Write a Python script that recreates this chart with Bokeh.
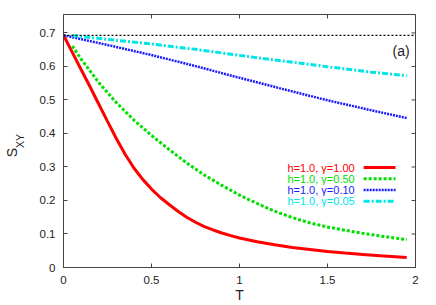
import math
from bokeh.plotting import figure
from bokeh.models import Range1d, FixedTicker, Label, Span, LinearAxis
from bokeh.embed import file_html
from bokeh.resources import INLINE

# ---------------- data ----------------
X_TICKS = [0, 0.5, 1, 1.5, 2]
X_TICK_LABELS = {0: "0", 0.5: "0.5", 1: "1", 1.5: "1.5", 2: "2"}
Y_TICKS = [0, 0.1, 0.2, 0.3, 0.4, 0.5, 0.6, 0.7]
Y_TICK_LABELS = {0: "0", 0.1: "0.1", 0.2: "0.2", 0.3: "0.3", 0.4: "0.4",
                 0.5: "0.5", 0.6: "0.6", 0.7: "0.7"}
X_TITLE = "T"
Y_TITLE_MAIN, Y_TITLE_SUB = "S", "XY"

LN2 = 0.693

t_g100 = [0, 0.05, 0.1, 0.15, 0.2, 0.25, 0.3, 0.35, 0.4, 0.45, 0.5, 0.55,
          0.6, 0.65, 0.7, 0.75, 0.8, 0.85, 0.9, 0.95, 1.0, 1.1, 1.2, 1.3,
          1.4, 1.5, 1.6, 1.7, 1.8, 1.95]
s_g100 = [0.693, 0.642, 0.591, 0.540, 0.488, 0.436, 0.385, 0.338, 0.297,
          0.263, 0.234, 0.209, 0.188, 0.168, 0.150, 0.135, 0.122, 0.112,
          0.103, 0.095, 0.088, 0.077, 0.068, 0.060, 0.054, 0.048, 0.043,
          0.039, 0.035, 0.030]

t_g050 = [0.05, 0.1, 0.2, 0.3, 0.4, 0.5, 0.6, 0.7, 0.8, 0.9, 1.0, 1.1, 1.2,
          1.3, 1.4, 1.5, 1.6, 1.7, 1.8, 1.95]
s_g050 = [0.661, 0.622, 0.552, 0.492, 0.440, 0.394, 0.352, 0.312, 0.276,
          0.245, 0.216, 0.191, 0.168, 0.149, 0.133, 0.121, 0.111, 0.102,
          0.094, 0.083]

t_g010 = [0, 0.25, 0.5, 0.75, 1.0, 1.25, 1.5, 1.75, 1.95]
s_g010 = [0.693, 0.664, 0.634, 0.601, 0.566, 0.532, 0.499, 0.469, 0.446]

t_g005 = [0.05, 0.25, 0.5, 0.75, 1.0, 1.25, 1.5, 1.75, 1.95]
s_g005 = [0.692, 0.681, 0.667, 0.651, 0.633, 0.616, 0.599, 0.583, 0.572]

labels = ["h=1.0, \u03b3=1.00", "h=1.0, \u03b3=0.50",
          "h=1.0, \u03b3=0.10", "h=1.0, \u03b3=0.05"]
colors = ["#ff0000", "#00e000", "#1a1aff", "#00e6e6"]
dashes = ["solid", "3 2", "2 1", "6 2 2 2"]
widths = [3, 3, 2.5, 3]
series = [(t_g100, s_g100), (t_g050, s_g050), (t_g010, s_g010),
          (t_g005, s_g005)]

FONT = "Liberation Sans"
TXT = "#222222"
AX = "#444444"

X_MIN, X_MAX = 0, 2
Y_MIN, Y_MAX = 0, 0.755

# ---------------- figure ----------------
p = figure(width=436, height=305, output_backend="svg", toolbar_location=None,
           x_range=Range1d(X_MIN, X_MAX), y_range=Range1d(Y_MIN, Y_MAX),
           min_border_left=62, min_border_right=21, min_border_top=14,
           min_border_bottom=37, tools="")
p.background_fill_color = "white"
p.border_fill_color = "white"
p.outline_line_color = AX
p.outline_line_width = 1
p.xgrid.visible = False
p.ygrid.visible = False

for ax, ticks, lab in ((p.xaxis[0], X_TICKS, X_TICK_LABELS),
                       (p.yaxis[0], Y_TICKS, Y_TICK_LABELS)):
    ax.ticker = FixedTicker(ticks=ticks)
    ax.major_label_overrides = lab
    ax.major_tick_in = 4
    ax.major_tick_out = 0
    ax.minor_tick_in = 0
    ax.minor_tick_out = 0
    ax.minor_tick_line_color = None
    ax.axis_line_color = AX
    ax.major_tick_line_color = AX
    ax.major_label_text_font = FONT
    ax.major_label_text_font_size = "11.5px"
    ax.major_label_text_color = TXT
    ax.major_label_standoff = 8
    ax.axis_label_text_font = FONT
    ax.axis_label_text_font_style = "normal"
    ax.axis_label_text_color = TXT

p.xaxis[0].axis_label = X_TITLE
p.xaxis[0].axis_label_text_font_size = "14px"
p.xaxis[0].axis_label_standoff = 0

# subscript of the y title sits on the main y axis
p.yaxis[0].axis_label = Y_TITLE_SUB
p.yaxis[0].axis_label_text_font_size = "10.5px"
p.yaxis[0].axis_label_standoff = 11

# outer, invisible axis carrying the main letter of the y title;
# trailing no-break spaces push the letter below the axis centre
s_axis = LinearAxis(ticker=FixedTicker(ticks=[]), axis_line_color=None,
                    major_tick_line_color=None, minor_tick_line_color=None,
                    major_tick_in=0, major_tick_out=0, minor_tick_in=0,
                    minor_tick_out=0, major_label_standoff=0,
                    axis_label=Y_TITLE_MAIN + "\u00a0" * 6,
                    axis_label_text_font=FONT,
                    axis_label_text_font_size="14px",
                    axis_label_text_font_style="normal",
                    axis_label_text_color=TXT, axis_label_standoff=-9)
p.add_layout(s_axis, "left")

# ---------------- helpers: picture pixel -> data ----------------
X0P, X1P = 62.0, 415.0      # frame left / right in pixels
Y0P, Y1P = 268.0, 14.0      # frame bottom / top in pixels
XPU = (X1P - X0P) / (X_MAX - X_MIN)
YPU = (Y0P - Y1P) / (Y_MAX - Y_MIN)


def dx(px):
    return X_MIN + (px - X0P) / XPU


def dy(py):
    return Y_MIN + (Y0P - py) / YPU


# mirrored inward ticks on top and right borders
TICK = 4
p.segment(x0=X_TICKS, x1=X_TICKS, y0=[Y_MAX] * len(X_TICKS),
          y1=[Y_MAX - TICK / YPU] * len(X_TICKS), line_color=AX,
          line_width=1)
p.segment(x0=[X_MAX] * len(Y_TICKS), x1=[X_MAX - TICK / XPU] * len(Y_TICKS),
          y0=Y_TICKS, y1=Y_TICKS, line_color=AX, line_width=1)

# reference level ln 2
p.add_layout(Span(location=LN2, dimension="width", line_color="black",
                  line_width=1.3, line_dash="2 2"))

for (tt, ss), c, d, w in zip(series, colors, dashes, widths):
    p.line(tt, ss, line_color=c, line_width=w, line_dash=d)

# ---------------- legend (text left of sample) ----------------
LEG_RIGHT = 354
LEG_S0, LEG_S1 = 363, 395
LEG_ROWS = [167.7, 179.0, 190.3, 201.6]
for lab, c, d, w, ry in zip(labels, colors, dashes, widths, LEG_ROWS):
    p.add_layout(Label(x=dx(LEG_RIGHT), y=dy(ry), text=lab,
                       text_align="right", text_baseline="middle",
                       text_font=FONT, text_font_size="11px",
                       text_color=c))
    p.line([dx(LEG_S0), dx(LEG_S1)], [dy(ry), dy(ry)], line_color=c,
           line_width=w, line_dash=d)

# panel tag
p.add_layout(Label(x=dx(400.5), y=dy(50.5), text="(a)", text_align="center",
                   text_baseline="middle", text_font=FONT,
                   text_font_size="14px", text_color=TXT))

open("out.html", "w").write(file_html(p, INLINE))
